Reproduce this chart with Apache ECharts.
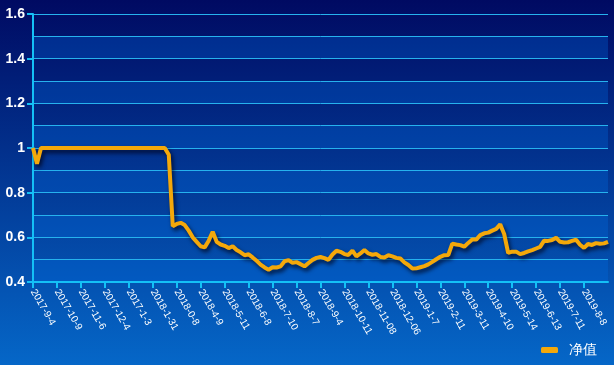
<!DOCTYPE html>
<html>
<head>
<meta charset="utf-8">
<script src="https://cdn.jsdelivr.net/npm/echarts@6/dist/echarts.min.js"></script>
<style>
html,body{margin:0;padding:0;}
#c{width:614px;height:365px;background:linear-gradient(to bottom,#000a62 0%,#0567c8 100%);}
</style>
</head>
<body>
<div id="c"></div>
<script>
// Tick labels shown on the x axis (as printed in the source chart)
var tickLabels = ['2017-9-4','2017-10-9','2017-11-6','2017-12-4','2017-1-3','2018-1-31','2018-0-8','2018-4-9','2018-5-11','2018-6-8','2018-7-10','2018-8-7','2018-9-4','2018-10-11','2018-11-08','2018-12-06','2019-1-7','2019-2-11','2019-3-11','2019-4-10','2019-5-14','2019-6-13','2019-7-11','2019-8-8'];
// number of sampled points between two labelled dates
var pointsPerLabel = 6;
// 净值 (net value)
var netValue = [
1.0,0.93,1.0,1.0,1.0,1.0,1.0,1.0,1.0,1.0,
1.0,1.0,1.0,1.0,1.0,1.0,1.0,1.0,1.0,1.0,
1.0,1.0,1.0,1.0,1.0,1.0,1.0,1.0,1.0,1.0,
1.0,1.0,1.0,1.0,0.97,0.65,0.66,0.665,0.655,0.63,
0.60,0.58,0.56,0.555,0.585,0.625,0.58,0.568,0.562,0.552,
0.56,0.543,0.533,0.52,0.524,0.51,0.495,0.478,0.465,0.455,
0.466,0.465,0.47,0.493,0.498,0.486,0.489,0.48,0.47,0.485,
0.499,0.508,0.512,0.507,0.499,0.523,0.54,0.535,0.525,0.521,
0.54,0.515,0.528,0.543,0.528,0.522,0.525,0.512,0.51,0.52,
0.515,0.508,0.505,0.488,0.476,0.46,0.461,0.466,0.471,0.479,
0.49,0.502,0.513,0.52,0.521,0.572,0.568,0.565,0.558,0.575,
0.59,0.59,0.61,0.618,0.621,0.63,0.638,0.658,0.615,0.53,
0.536,0.536,0.525,0.53,0.537,0.543,0.55,0.557,0.585,0.584,
0.588,0.598,0.58,0.577,0.578,0.584,0.589,0.567,0.553,0.57,
0.566,0.574,0.571,0.573,0.58
];
var seriesName = '净值';

var categories = netValue.map(function(v, i){
  return (i % pointsPerLabel === 0 && tickLabels[i / pointsPerLabel]) ? tickLabels[i / pointsPerLabel] : '';
});

var chart = echarts.init(document.getElementById('c'), null, {renderer:'canvas'});
var axisColor = '#14c0f6';
var font = 'Arial, "Liberation Sans", sans-serif';
chart.setOption({
  backgroundColor: 'transparent',
  animation: false,
  grid: {left: 33, right: 6, top: 14, bottom: 83, containLabel: false},
  legend: {
    right: 12, bottom: 3,
    icon: 'roundRect', itemWidth: 17, itemHeight: 6, itemGap: 10,
    textStyle: {color: '#ffffff', fontSize: 14, fontFamily: font, padding: [0, 0, 0, 6]},
    data: [seriesName]
  },
  xAxis: {
    type: 'category',
    data: categories,
    boundaryGap: false,
    axisLine: {lineStyle: {color: axisColor, width: 2}},
    axisTick: {show: true, length: 6, lineStyle: {color: axisColor, width: 2},
      interval: function(i, v){ return v !== ''; }},
    axisLabel: {color: '#ffffff', fontSize: 10, fontFamily: font, rotate: -60, margin: 8,
      interval: function(i, v){ return v !== ''; }},
    splitLine: {show: false}
  },
  yAxis: [{
    type: 'value', min: 0.4, max: 1.6, interval: 0.1,
    axisLine: {show: false}, axisTick: {show: false}, axisLabel: {show: false},
    splitLine: {show: true, lineStyle: {color: '#26b2ee', width: 1}},
    splitArea: {show: true, areaStyle: {color: ['rgba(0,110,230,0.30)', 'rgba(0,0,0,0)']}}
  }, {
    type: 'value', min: 0.4, max: 1.6, interval: 0.2, position: 'left',
    axisLine: {show: true, lineStyle: {color: axisColor, width: 2}},
    axisTick: {show: true, length: 6, lineStyle: {color: axisColor, width: 2}},
    axisLabel: {color: '#ffffff', fontSize: 14, fontWeight: 'bold', fontFamily: font, margin: 8},
    splitLine: {show: false}, splitArea: {show: false}
  }],
  series: [{
    name: seriesName,
    type: 'line',
    yAxisIndex: 0,
    data: netValue,
    showSymbol: false,
    symbol: 'none',
    itemStyle: {color: '#f4a80a'},
    lineStyle: {color: '#f4a80a', width: 4,
      shadowColor: 'rgba(0,0,20,0.75)', shadowBlur: 4, shadowOffsetX: 2, shadowOffsetY: 3}
  }]
});
</script>
</body>
</html>
